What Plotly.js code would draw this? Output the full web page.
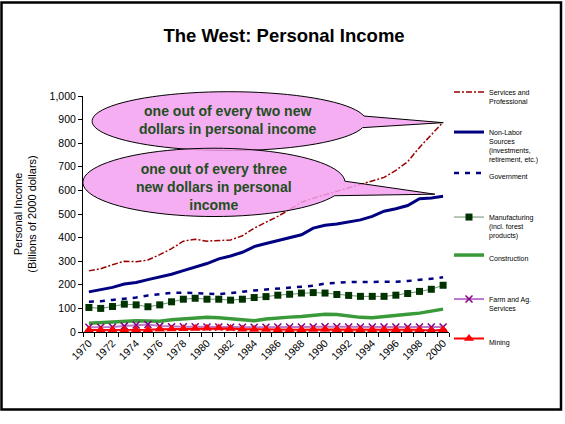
<!DOCTYPE html>
<html><head><meta charset="utf-8">
<script src="https://cdn.plot.ly/plotly-3.0.1.min.js"></script>
<style>html,body{margin:0;padding:0;background:#fff}#c{width:565px;height:424px}</style>
</head><body><div id="c"></div>
<script>
const years = [1970,1971,1972,1973,1974,1975,1976,1977,1978,1979,1980,1981,1982,1983,1984,1985,1986,1987,1988,1989,1990,1991,1992,1993,1994,1995,1996,1997,1998,1999,2000];
const labelYears = [1970,1972,1974,1976,1978,1980,1982,1984,1986,1988,1990,1992,1994,1996,1998,2000];
const labelText = ['1970','1972','1974','1976','1978','1980','1982','1984','1986','1988','1990','1992','1994','1996','1998','2000'];
const services = [259,268,285,300,298,305,328,353,385,393,385,387,390,408,440,465,490,519,550,567,582,595,612,625,640,655,685,722,782,836,889];
const nonLabor = [170,180,189,203,210,222,232,245,260,275,290,310,322,338,362,375,388,400,412,440,452,458,468,475,490,512,522,536,565,568,575];
const government = [128,130,136,140,146,155,162,166,167,164,160,160,165,172,176,180,185,188,192,196,205,208,212,212,212,212,213,216,220,226,232];
const manufacturing = [104,100,108,118,115,107,115,128,139,143,139,139,135,139,146,150,156,160,165,167,165,159,155,151,151,151,156,163,172,181,198];
const construction = [37,40,44,47,48,47,46,52,56,62,63,60,55,50,48,55,60,63,66,70,75,74,68,62,60,66,70,75,80,88,97];
const farm = [20,20,21,25,30,32,25,22,22,22,21,21,20,20,20,20,21,21,21,21,22,22,21,21,21,21,21,21,21,21,21];
const mining = [8,8,8,8,9,10,12,13,14,15,16,17,15,12,11,11,10,10,10,11,11,10,10,10,10,10,10,10,10,5,10];
const names = ['Services and<br>Professional','Non-Labor<br>Sources<br>(investments,<br>retirement, etc.)','Government','Manufacturing<br>(incl. forest<br>products)','Construction','Farm and Ag.<br>Services','Mining'];
const callout1 = 'one out of every two new<br>dollars in personal income';
const callout2 = 'one out of every three<br>new dollars in personal<br>income';

const F = 'Arial, "Liberation Sans", sans-serif';
const legendY = [91,131,172,216,254,298,337.5];
const W = 565, H = 424;
const L = 83, R = 449, T = 96, B = 332.3;

const traces = [
  {y: services, line:{color:'#990000', width:1.5, dash:'6px,2px,2px,2px'}, mode:'lines'},
  {y: nonLabor, line:{color:'#000080', width:3}, mode:'lines'},
  {y: government, line:{color:'#000080', width:2.5, dash:'5px,6px'}, mode:'lines'},
  {y: manufacturing, line:{color:'#6f8f6f', width:1}, mode:'lines+markers', marker:{symbol:'square', size:7, color:'#003300'}},
  {y: construction, line:{color:'#3a9a3a', width:3.5}, mode:'lines'},
  {y: farm, line:{color:'#bb77cc', width:2}, mode:'lines+markers', marker:{symbol:'x-thin-open', size:7, line:{color:'#800080', width:1.5}, color:'#800080'}},
  {y: mining, line:{color:'#ff0000', width:2}, mode:'lines+markers', marker:{symbol:'triangle-up', size:9, color:'#ff0000'}}
].map((t,i)=>Object.assign(t,{x: years, name: names[i], type:'scatter', legend: i===0?'legend':'legend'+(i+1), showlegend:true, hoverinfo:'skip'}));

const layout = {
  width: W, height: H,
  margin: {l: L, r: W-R, t: T, b: H-B, pad:0},
  paper_bgcolor:'#fff', plot_bgcolor:'#fff',
  font: {family: F, color:'#000'},
  title: {text:'<b>The West: Personal Income</b>', font:{size:18.5, family:F, color:'#000'}, xref:'container', yref:'container', x:284/W, y:1-35.5/H, xanchor:'center', yanchor:'middle'},
  xaxis: {type:'linear', range:[1969.5, 2000.5], tickvals: labelYears, ticktext: labelText, tickangle:-45, ticks:'', showgrid:false, zeroline:false, showline:true, linecolor:'#000', linewidth:1, tickfont:{size:10.5, family:F},
    minor:{tick0:1969.5, dtick:1, ticks:'outside', ticklen:4, tickcolor:'#000', showgrid:false}},
  yaxis: {range:[0,1000], dtick:100, tickformat:',d', ticks:'outside', ticklen:4, tickcolor:'#000', showgrid:false, zeroline:false, showline:true, linecolor:'#000', linewidth:1, tickfont:{size:10.5, family:F},
    title:{text:'Personal Income<br>(Billions of 2000 dollars)', font:{size:11, family:F}, standoff:10}},
  shapes: [], annotations: []
};

for (let i=0;i<7;i++){
  const key = i===0?'legend':'legend'+(i+1);
  layout[key] = {x: 449/W, y: 1-(legendY[i]-10)/H, xref:'container', yref:'container', xanchor:'left', yanchor:'top', valign:'top', bgcolor:'rgba(0,0,0,0)', borderwidth:0, itemwidth:30, font:{size:7, family:F, color:'#000'}, tracegroupgap:0, itemclick:false, itemdoubleclick:false};
}

// helpers: data -> paper
const xp = yr => (yr - 1969.5)/31;
const yp = v => v/1000;
function callout(cx, cy, rx, ry, tUp, tLow, tipX, tipY){
  let d = '';
  const a0 = tUp*Math.PI/180, a1 = (360+tLow)*Math.PI/180;
  const n = 80;
  for (let k=0;k<=n;k++){
    const a = a0 + (a1-a0)*k/n;
    const X = xp(cx + rx*Math.cos(a)), Y = yp(cy + ry*Math.sin(a));
    d += (k===0?'M':'L') + X.toFixed(5)+','+Y.toFixed(5);
  }
  d += 'L'+xp(tipX).toFixed(5)+','+yp(tipY).toFixed(5)+'Z';
  return {type:'path', xref:'paper', yref:'paper', path:d, fillcolor:'rgba(243,160,238,0.85)', line:{color:'#000', width:1}, layer:'above'};
}
layout.shapes.push(callout(1981.87, 893.4, 11.60, 124.8, 10, -12.7, years[30], services[30]-2));
layout.shapes.push(callout(1980.59, 634, 11.10, 144.7, 2, -23, 1999.3, 584));
// slide frame
layout.shapes.push({type:'rect', xref:'paper', yref:'paper', x0:(1.5-L)/(R-L), x1:(561-L)/(R-L), y0:(B-410)/(B-T), y1:(B-2.5)/(B-T), line:{color:'#000', width:2.5}, fillcolor:'rgba(0,0,0,0)', layer:'above'});

const txtFont = {size:14, family:F, color:'#1f4e1f'};
layout.annotations.push({xref:'x', yref:'y', x:1981.78, y:899, text:'<b>'+callout1+'</b>', showarrow:false, font:txtFont, align:'center'});
layout.annotations.push({xref:'x', yref:'y', x:1980.6, y:615, text:'<b>'+callout2+'</b>', showarrow:false, font:txtFont, align:'center'});

Plotly.newPlot('c', traces, layout, {staticPlot:true, displayModeBar:false});
</script></body></html>
